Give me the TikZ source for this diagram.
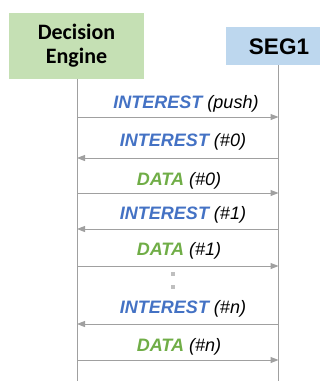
\documentclass[tikz,border=0pt]{standalone}
\usepackage{fontspec}
\setmainfont{Liberation Sans}
\newfontfamily\calibri{Carlito}
\usetikzlibrary{arrows.meta}
\definecolor{engfill}{HTML}{C5E0B4}
\definecolor{segfill}{HTML}{BDD7EE}
\definecolor{intblue}{HTML}{4472C4}
\definecolor{datagreen}{HTML}{70AD47}
\definecolor{linegray}{HTML}{A0A0A0}
\definecolor{dotgray}{HTML}{BFBFBF}
\newcommand{\intmsg}[1]{\textcolor{intblue}{\bfseries INTEREST} (#1)}
\newcommand{\datamsg}[1]{\textcolor{datagreen}{\bfseries DATA} (#1)}
\begin{document}
\begin{tikzpicture}[x=1pt,y=-1pt,
  lifeline/.style={draw=linegray,line width=1pt},
  msg/.style={draw=linegray,line width=1pt,-{Triangle[length=8pt,width=6pt]}},
  lbl/.style={anchor=base,inner sep=0pt,font=\fontsize{18}{20}\selectfont\itshape},
  actor/.style={inner sep=0pt,outer sep=0pt}]
\useasboundingbox (0,0) rectangle (320,381);
% participant boxes
\fill[engfill] (9,13) rectangle (144,79);
\node[actor,align=center,font=\calibri\bfseries\fontsize{22}{24}\selectfont] (eng) at (76.5,46) {Decision\\Engine};
\fill[segfill] (226,27) rectangle (320,65);
\node[actor,font=\bfseries\fontsize{22.5}{24}\selectfont] (seg) at (279,46.5) {SEG1};
% lifelines
\coordinate (eTop) at (77,79);
\coordinate (eBot) at (77,381);
\coordinate (sTop) at (278.5,65);
\coordinate (sBot) at (278.5,381);
\draw[lifeline] (eTop) -- (eBot);
\draw[lifeline] (sTop) -- (sBot);
% message end points
\foreach \i/\y in {1/117,2/158,3/193,4/229,5/266,6/324,7/360}{
  \coordinate (e\i) at (77,\y);
  \coordinate (s\i) at (278.5,\y);
}
\draw[msg] (e1) -- (s1);
\draw[msg] (s2) -- (e2);
\draw[msg] (e3) -- (s3);
\draw[msg] (s4) -- (e4);
\draw[msg] (e5) -- (s5);
\draw[msg] (s6) -- (e6);
\draw[msg] (e7) -- (s7);
% message labels
\node[lbl] (m1) at (186,108) {\intmsg{push}};
\node[lbl] (m2) at (183,146) {\intmsg{\#0}};
\node[lbl] (m3) at (179,185) {\datamsg{\#0}};
\node[lbl] (m4) at (183,219) {\intmsg{\#1}};
\node[lbl] (m5) at (179,255) {\datamsg{\#1}};
\node[lbl] (m6) at (183,313) {\intmsg{\#\textit{n}}};
\node[lbl] (m7) at (179,351) {\datamsg{\#\textit{n}}};
% continuation dots
\fill[dotgray] (170.75,271.75) rectangle (175.25,276.25);
\fill[dotgray] (170.75,284.5) rectangle (175.25,289);
\end{tikzpicture}
\end{document}
